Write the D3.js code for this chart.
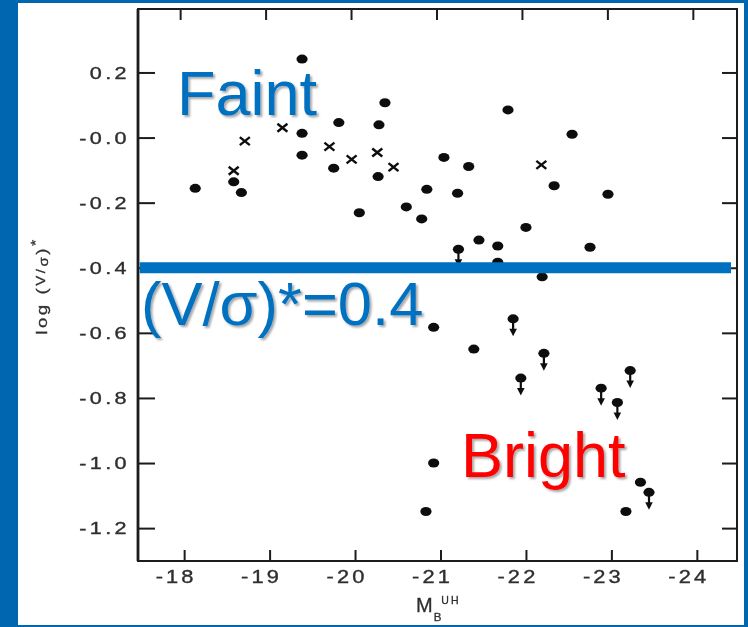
<!DOCTYPE html>
<html><head><meta charset="utf-8">
<script src="https://cdn.jsdelivr.net/npm/d3@7"></script>
<style>body{margin:0;background:#fff;} svg{display:block}</style>
</head><body>
<svg id="chart" width="748" height="627"></svg>
<script>
// ---- data ----
const xTicks = [-18, -19, -20, -21, -22, -23, -24];
const xTickLabels = ["-18", "-19", "-20", "-21", "-22", "-23", "-24"];
const yTicks = [0.2, 0.0, -0.2, -0.4, -0.6, -0.8, -1.0, -1.2];
const yTickLabels = ["0.2", "-0.0", "-0.2", "-0.4", "-0.6", "-0.8", "-1.0", "-1.2"];

// filled circles
const dotMag  = [-18.13, -18.58, -18.67, -19.38, -19.38, -19.38, -19.81, -19.75, -20.05, -20.35, -20.28, -20.27,
                 -20.60, -20.78, -20.84, -21.04, -21.33, -21.20, -21.79, -22.54, -22.33, -22.96, -22.00, -21.45,
                 -21.67, -22.75, -22.19, -20.92, -21.39, -20.92, -20.83, -23.17, -23.34, -21.67];
const dotLogV = [-0.156, -0.136, -0.169, 0.241, 0.013, -0.054, 0.046, -0.094, -0.231, 0.107, 0.039, -0.120,
                 -0.213, -0.250, -0.159, -0.061, -0.089, -0.171, 0.085, 0.010, -0.148, -0.174, -0.276, -0.315,
                 -0.333, -0.337, -0.428, -0.583, -0.650, -1.000, -1.149, -1.149, -1.059, -0.383];
// upper limits (circle with downward arrow)
const limMag  = [-21.21, -21.85, -22.21, -21.94, -22.88, -23.07, -23.22, -23.44];
const limLogV = [-0.343, -0.557, -0.663, -0.739, -0.770, -0.814, -0.716, -1.090];
// crosses
const crossMag  = [-18.58, -18.71, -19.15, -19.70, -19.96, -20.26, -20.45, -22.18];
const crossLogV = [-0.102, -0.011, 0.030, -0.028, -0.067, -0.046, -0.091, -0.084];

const thresholdValue = -0.4;
const thresholdMagExtent = [-17.48, -24.40];
const thresholdLabel = "(V/σ)*=0.4";
const faintLabel = "Faint";
const brightLabel = "Bright";

// ---- layout ----
const W = 748, H = 627;
const svg = d3.select("#chart");
const blueBorder = "#0066B0", blue = "#0070C0", ink = "#1c1c1c", labelInk = "#2e2e2e";
const font = "Liberation Sans, Arial, sans-serif";

const defs = svg.append("defs");
const sh = defs.append("filter").attr("id", "shadow").attr("x", "-10%").attr("y", "-10%").attr("width", "130%").attr("height", "140%");
sh.append("feDropShadow").attr("dx", 2).attr("dy", 2).attr("stdDeviation", 1.3)
  .attr("flood-color", "#000").attr("flood-opacity", 0.35);
const soft = defs.append("filter").attr("id", "soft");
soft.append("feGaussianBlur").attr("stdDeviation", 0.35);

svg.append("rect").attr("width", W).attr("height", H).attr("fill", blueBorder);
svg.append("rect").attr("x", 18).attr("y", 3).attr("width", 726).attr("height", 622).attr("fill", "#fff");

const x = d3.scaleLinear().domain([-17.46, -24.47]).range([138, 737]);
const y = d3.scaleLinear().domain([0.395, -1.301]).range([9, 561]);

const scan = svg.append("g").attr("filter", "url(#soft)");

// frame
scan.append("rect").attr("x", x.range()[0]).attr("y", y.range()[0])
  .attr("width", x.range()[1] - x.range()[0]).attr("height", y.range()[1] - y.range()[0])
  .attr("fill", "none").attr("stroke", ink).attr("stroke-width", 2);
scan.append("line").attr("x1", x.range()[0]).attr("x2", x.range()[0]).attr("y1", y.range()[0]).attr("y2", y.range()[1])
  .attr("stroke", ink).attr("stroke-width", 2.8);

// axes
const yIdx = new Map(yTicks.map((v, i) => [v, i]));
const xIdx = new Map(xTicks.map((v, i) => [v, i]));

const gl = scan.append("g").attr("transform", `translate(${x.range()[0]},0)`)
  .call(d3.axisLeft(y).tickValues(yTicks).tickSizeInner(-17).tickSizeOuter(0).tickFormat(v => yTickLabels[yIdx.get(v)]));
const gb = scan.append("g").attr("transform", `translate(0,${y.range()[1]})`)
  .call(d3.axisBottom(x).tickValues(xTicks).tickSizeInner(-11).tickSizeOuter(0).tickFormat(v => xTickLabels[xIdx.get(v)]));
const gt = scan.append("g").attr("transform", `translate(-4,${y.range()[0]})`)
  .call(d3.axisTop(x).tickValues(xTicks).tickSizeInner(-11).tickSizeOuter(0).tickFormat(""));
const gr = scan.append("g").attr("transform", `translate(${x.range()[1]},0)`)
  .call(d3.axisRight(y).tickValues(yTicks).tickSizeInner(-15).tickSizeOuter(0).tickFormat(""));

[gl, gb, gt, gr].forEach(g => {
  g.select(".domain").remove();
  g.selectAll(".tick line").attr("stroke", ink).attr("stroke-width", 2);
});

const syx = 1.35;
gl.selectAll(".tick text")
  .attr("font-family", font).attr("font-size", 16)
  .attr("fill", labelInk).attr("stroke", labelInk).attr("stroke-width", 0.35)
  .attr("text-anchor", "end")
  .style("letter-spacing", "2.5px")
  .attr("transform", `scale(${syx},1)`)
  .attr("x", -8 / syx).attr("dy", "0.36em");

const sxx = 1.25;
gb.selectAll(".tick text")
  .attr("font-family", font).attr("font-size", 17.5)
  .attr("fill", labelInk).attr("stroke", labelInk).attr("stroke-width", 0.35)
  .attr("text-anchor", "end")
  .style("letter-spacing", "2.5px")
  .attr("transform", `scale(${sxx},1)`)
  .attr("x", 12 / sxx).attr("y", 22.5).attr("dy", 0);

// axis titles
const xt = scan.append("text").attr("x", 416).attr("y", 612)
  .attr("font-family", font).attr("fill", labelInk).attr("stroke", labelInk).attr("stroke-width", 0.3);
xt.append("tspan").attr("font-size", 20).text("M");
xt.append("tspan").attr("font-size", 11.5).attr("dy", 9).attr("dx", 1).text("B");
xt.append("tspan").attr("font-size", 10.5).attr("dy", -17).attr("dx", 0).style("letter-spacing", "2px").text("UH");

const yt = scan.append("text").attr("transform", "translate(47,286) rotate(-90) scale(1.25,1)")
  .attr("text-anchor", "middle").attr("font-family", font)
  .attr("font-size", 15).attr("fill", labelInk).attr("stroke", labelInk).attr("stroke-width", 0.25)
  .style("letter-spacing", "2px");
yt.append("tspan").text("log (");
yt.append("tspan").attr("font-size", 12).attr("dy", -2).text("V");
yt.append("tspan").attr("font-size", 12).attr("dy", 0).text("/");
yt.append("tspan").attr("font-size", 12).attr("dy", 3).text("σ");
yt.append("tspan").attr("dy", -1).text(")");
yt.append("tspan").attr("font-size", 13).attr("dy", -7).text("*");

// marks
scan.append("g").selectAll("ellipse").data(dotMag.map((m, i) => [m, dotLogV[i]])).join("ellipse")
  .attr("cx", d => x(d[0])).attr("cy", d => y(d[1])).attr("rx", 5.6).attr("ry", 4.5).attr("fill", "#111");

const lim = scan.append("g").selectAll("g").data(limMag.map((m, i) => [m, limLogV[i]])).join("g")
  .attr("transform", d => `translate(${x(d[0])},${y(d[1])})`);
lim.append("ellipse").attr("rx", 5.6).attr("ry", 4.5).attr("fill", "#111");
lim.append("line").attr("x1", 0).attr("x2", 0).attr("y1", 2).attr("y2", 12).attr("stroke", "#111").attr("stroke-width", 2.2);
lim.append("path").attr("d", "M-3.8,10L3.8,10L0,17.5Z").attr("fill", "#111");

scan.append("g").selectAll("path").data(crossMag.map((m, i) => [m, crossLogV[i]])).join("path")
  .attr("transform", d => `translate(${x(d[0])},${y(d[1])})`)
  .attr("d", "M-5,-4L5,4M-5,4L5,-4").attr("stroke", "#111").attr("stroke-width", 2.4).attr("fill", "none");

// threshold line
svg.append("line")
  .attr("x1", x(thresholdMagExtent[0])).attr("x2", x(thresholdMagExtent[1]))
  .attr("y1", y(thresholdValue)).attr("y2", y(thresholdValue))
  .attr("stroke", blue).attr("stroke-width", 11);

// annotations
const ann = svg.append("g").attr("font-family", font).attr("filter", "url(#shadow)");
ann.append("text").attr("x", 177).attr("y", 115).attr("font-size", 63).attr("fill", blue).text(faintLabel);
ann.append("text").attr("x", 141).attr("y", 325).attr("font-size", 61.5).attr("fill", blue).text(thresholdLabel);
ann.append("text").attr("x", 461).attr("y", 477).attr("font-size", 63).attr("fill", "#FF0000").text(brightLabel);
</script>
</body></html>
